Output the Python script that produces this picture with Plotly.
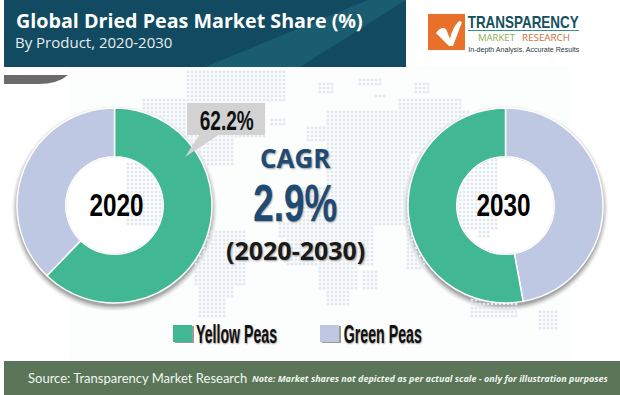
import json
import numpy as np
import plotly.graph_objects as go

W, H = 620, 395
categories = ["Yellow Peas", "Green Peas"]
values_2020 = [62.2, 37.8]
values_2030 = [52.9, 47.1]
years = ["2020", "2030"]
colors = ["#41b793", "#bec8e2"]
title = "Global Dried Peas Market Share (%)"
subtitle = "By Product, 2020-2030"
cagr_label = "CAGR"
cagr_value = "2.9%"
cagr_period = "(2020-2030)"
source = "Source: Transparency Market Research"
note = "Note: Market shares not depicted as per actual scale - only for illustration purposes"

# decorative dotted world map: blocks of dots (y0, y1, x0, x1) in page pixels
map_blocks = [
    (75, 103, 190, 285), (103, 140, 190, 268), (103, 125, 147, 187), (125, 145, 150, 190),
    (140, 167, 195, 233), (167, 228, 128, 163), (232, 258, 200, 247), (258, 285, 197, 247),
    (285, 300, 200, 235), (300, 320, 200, 225), (123, 128, 273, 287), (85, 95, 320, 333),
    (83, 87, 362, 383), (97, 100, 376, 386), (85, 95, 419, 431), (112, 130, 330, 470),
    (128, 142, 310, 330), (130, 190, 330, 410), (190, 225, 300, 410), (225, 238, 280, 373),
    (238, 268, 290, 373), (268, 290, 323, 360), (290, 305, 330, 352), (272, 292, 367, 377),
    (100, 153, 400, 463), (163, 230, 457, 497), (223, 240, 480, 490), (303, 317, 473, 517),
    (313, 330, 541, 557), (225, 270, 410, 425),
]
dots = set()
for y0, y1, x0, x1 in map_blocks:
    for px in range((x0 // 4) * 4, x1, 4):
        for py in range((y0 // 4) * 4, y1, 4):
            dots.add((px, py))
xs = [d[0] for d in dots]
ys = [d[1] for d in dots]

def dom(cx, cy, rad):
    return dict(x=[(cx - rad) / W, (cx + rad) / W], y=[1 - (cy + rad) / H, 1 - (cy - rad) / H])

def disc(cx, cy, rad, fill, op=1):
    return dict(type="circle", xref="x", yref="y", x0=cx - rad, x1=cx + rad, y0=cy - rad, y1=cy + rad,
                fillcolor=fill, opacity=op, line_width=0, layer="below")

def rect(x0, y0, x1, y1, fill, op=1, layer="below"):
    return dict(type="rect", xref="x", yref="y", x0=x0, x1=x1, y0=y0, y1=y1, fillcolor=fill, opacity=op,
                line_width=0, layer=layer)

def path(d, fill, layer="below", op=1):
    return dict(type="path", xref="x", yref="y", path=d, fillcolor=fill, line_width=0, layer=layer, opacity=op)

fig = go.Figure()
fig.add_trace(go.Scatter(x=xs, y=ys, mode="markers", hoverinfo="skip", showlegend=False,
                         marker=dict(symbol="square", size=2.6, color="#e0e8ee", line_width=0)))

CY, RAD, LX, RX = 205.5, 97.5, 114.5, 505.5
fig.add_trace(go.Pie(values=values_2020, labels=categories, domain=dom(LX, CY, RAD), hole=0.5, sort=False,
                     direction="clockwise", rotation=0, textinfo="none", showlegend=False,
                     marker=dict(colors=colors, line=dict(color="#ffffff", width=1.5))))
# 2030 runs the other way round: Green Peas on the right of 12 o'clock
fig.add_trace(go.Pie(values=values_2030[::-1], labels=categories[::-1], domain=dom(RX, CY, RAD), hole=0.5, sort=False,
                     direction="clockwise", rotation=0, textinfo="none", showlegend=False,
                     marker=dict(colors=colors[::-1], line=dict(color="#ffffff", width=1.5))))

shapes = [rect(69, 66, 569, 360, "#fcfdfd")]
for cx in (LX, RX):
    for d, o in ((5, .05), (4, .07), (3, .09), (2, .12), (1, .15), (0, .2)):
        shapes.append(disc(cx, CY + 3, RAD + d, "#555555", o))
    shapes.append(disc(cx + 1, CY, RAD * 0.5, "#9a9a9a"))
    shapes.append(disc(cx, CY, RAD * 0.5 - 0.5, "#ffffff"))

shapes += [
    rect(4, 0, 406, 67, "#114a61"),
    path("M 205 67 L 368 0 L 406 0 L 300 67 Z", "#1a5c70"),
    path("M 4 75 L 68 75 Q 58 84 38 84 L 4 84 Z", "#6b6b6b"),
    rect(4, 361, 620, 395, "#5a7558"),
    rect(428, 14, 465, 50, "#e8702a"),
    path("M 436 33 Q 441 26 446 29 L 450 39 Q 452 28 459 21 L 462 22 L 453 46 L 449 46 Z", "#ffffff", layer="above"),
    rect(468, 30, 579, 31, "#3a8d9b"),
    # callout
    rect(187, 103, 265, 135, "#d2d2d2", layer="above"),
    path("M 200 134 L 220 134 L 185 157 L 192 146 Z", "#d2d2d2", layer="above"),
    # legend swatches
    rect(175, 326, 194, 343, "#9a9a9a"),
    rect(173, 325, 192, 342, colors[0]),
    rect(322, 326, 341, 343, "#9a9a9a"),
    rect(320, 325, 339, 342, colors[1]),
]

NARROW = "Liberation Sans, sans-serif"
OPEN = "Open Sans, sans-serif"
def txt(x, y, s, size, color, fam=OPEN, anchor="center", weight="normal", style="normal", shadow="none"):
    return dict(x=x, y=y, xref="x", yref="y", text=s, showarrow=False, xanchor=anchor, yanchor="middle",
                font=dict(family=fam, size=size, color=color, weight=weight, style=style, shadow=shadow))

soft = "1px 1px 2px #9a9a9a"
annotations = [
    txt(14, 20, title, 19.7, "#ffffff", anchor="left", weight="bold"),
    txt(13, 42, subtitle, 15, "#e6eef0", anchor="left"),
    txt(116.5, 205, years[0], 32, "#000000", NARROW, weight="bold"),
    txt(503.5, 205, years[1], 32, "#000000", NARROW, weight="bold"),
    txt(226, 120, f"{values_2020[0]}%", 28, "#111111", NARROW, weight="bold"),
    txt(295.5, 157.5, cagr_label, 26, "#1f4a73", weight="bold", shadow=soft),
    txt(295, 203, cagr_value, 52, "#1f4a73", NARROW, weight="bold", shadow=soft),
    txt(295.5, 250, cagr_period, 25, "#1a1a1a", weight="bold", shadow=soft),
    txt(236.5, 334, categories[0], 25, "#111111", NARROW, weight="bold", shadow=soft),
    txt(383, 334, categories[1], 25, "#111111", NARROW, weight="bold", shadow=soft),
    txt(26, 378, source, 13, "#f2f5f0", "Lato, sans-serif", anchor="left"),
    txt(250, 378, note, 9, "#f2f5f0", OPEN, anchor="left", weight="bold", style="italic"),
    txt(523.5, 22, "TRANSPARENCY", 17, "#14505f", NARROW, weight="bold"),
    txt(496.5, 37.5, "MARKET", 9, "#8cb04a", OPEN),
    txt(546, 37.5, "RESEARCH", 9, "#c9703a", OPEN),
    txt(523.5, 49, "In-depth Analysis, Accurate Results", 7.5, "#2b3a3f", NARROW),
]

fig.update_layout(
    width=W, height=H, margin=dict(l=0, r=0, t=0, b=0), paper_bgcolor="#ffffff", plot_bgcolor="#ffffff",
    xaxis=dict(range=[0, W], visible=False, fixedrange=True),
    yaxis=dict(range=[H, 0], visible=False, fixedrange=True),
    shapes=shapes, annotations=annotations, showlegend=False,
)

# display-face look: squeeze the condensed labels to the widths they have in the reference
text_widths = {years[0]: 54, years[1]: 54, f"{values_2020[0]}%": 54, cagr_value: 84,
               categories[0]: 81, categories[1]: 78, "TRANSPARENCY": 111,
               "MARKET": 37, "RESEARCH": 48,
               "In-depth Analysis, Accurate Results": 111}
post = """
document.body.style.margin = '0';
document.body.style.overflow = 'hidden';
var w = %s;
document.querySelectorAll('.annotation-text').forEach(function (t) {
  var k = t.textContent;
  if (w[k]) { t.setAttribute('textLength', w[k]); t.setAttribute('lengthAdjust', 'spacingAndGlyphs'); }
});
""" % json.dumps(text_widths)
fig.write_html("out.html", config={"displayModeBar": False}, post_script=post)
